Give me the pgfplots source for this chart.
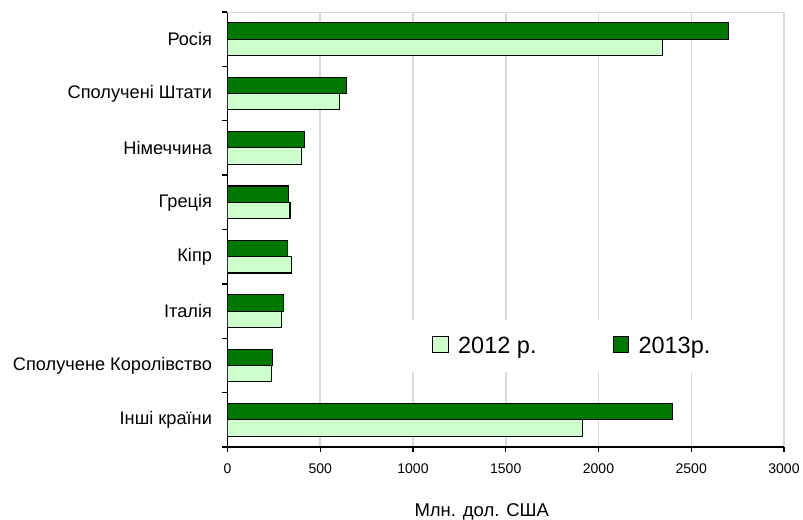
\documentclass[border=0pt]{standalone}
\usepackage{fontspec}
\setmainfont{Liberation Sans}
\usepackage{pgfplots}
\pgfplotsset{compat=1.18}
\definecolor{g13}{RGB}{0,120,0}
\definecolor{g12}{RGB}{204,255,204}
\definecolor{gridc}{RGB}{217,217,217}
\begin{document}
\begin{tikzpicture}
\begin{axis}[
  scale only axis, width=556.5bp, height=435bp,
  at={(0,0)}, anchor=south west,
  xmin=0, xmax=3000, ymin=-0.5, ymax=7.5,
  axis x line*=bottom, axis y line*=left,
  axis line style={black, line width=1.3bp, -},
  xtick={0,500,...,3000},
  scaled x ticks=false,
  /pgf/number format/1000 sep={},
  /pgf/number format/assume math mode=true,
  ytick={-0.5,0.5,...,7.5},
  y tick label as interval,
  yticklabels={Інші країни, Сполучене Королівство, Італія, Кіпр, Греція, Німеччина, Сполучені Штати, Росія},
  tick align=outside,
  major tick length=5bp,
  tick style={black, line width=1.3bp},
  xmajorgrids, ymajorgrids=false,
  major grid style={gridc, line width=1.5bp},
  xticklabel style={font=\fontsize{14bp}{16bp}\selectfont, yshift=-8bp},
  yticklabel style={font=\fontsize{18.2bp}{20bp}\selectfont, xshift=-7bp},
  xlabel={Млн. дол. США},
  every axis x label/.style={at={(axis description cs:0.457,0)}, anchor=base, yshift=-69.7bp, font=\fontsize{18.5bp}{20bp}\selectfont},
  legend columns=2,
  legend style={at={(axis description cs:0.319,0.232)}, anchor=west, draw=none, fill=white,
    font=\fontsize{23.5bp}{26bp}\selectfont, inner xsep=27bp, inner ysep=15bp,
    /tikz/every even column/.append style={column sep=74bp}},
  xbar, bar width=16.3bp,
]
\addplot[fill=g12, draw=black, line width=1.1bp, bar shift=-8.15bp,
  legend image code/.code={\draw[fill=g12,draw=black,line width=1.1bp] (0bp,-6.4bp) rectangle (15.6bp,9.6bp); \path[draw=none,fill=none] (0bp,0bp) -- (23.4bp,0bp);}]
  coordinates {(1916,0) (238,1) (292,2) (346,3) (337,4) (400,5) (602,6) (2346,7)};
\addplot[fill=g13, draw=black, line width=1.1bp, bar shift=8.15bp,
  legend image code/.code={\draw[fill=g13,draw=black,line width=1.1bp] (0bp,-6.4bp) rectangle (15.6bp,9.6bp); \path[draw=none,fill=none] (0bp,0bp) -- (23.4bp,0bp);}]
  coordinates {(2400,0) (242,1) (302,2) (323,3) (327,4) (415,5) (640,6) (2702,7)};
\legend{2012 р., 2013р.}
\draw[gridc, line width=1.5bp] (rel axis cs:0,1) -- (rel axis cs:1,1);
\end{axis}
\pgfresetboundingbox
\useasboundingbox (-227.5bp,-73bp) rectangle (575.5bp,447bp);
\end{tikzpicture}
\end{document}
